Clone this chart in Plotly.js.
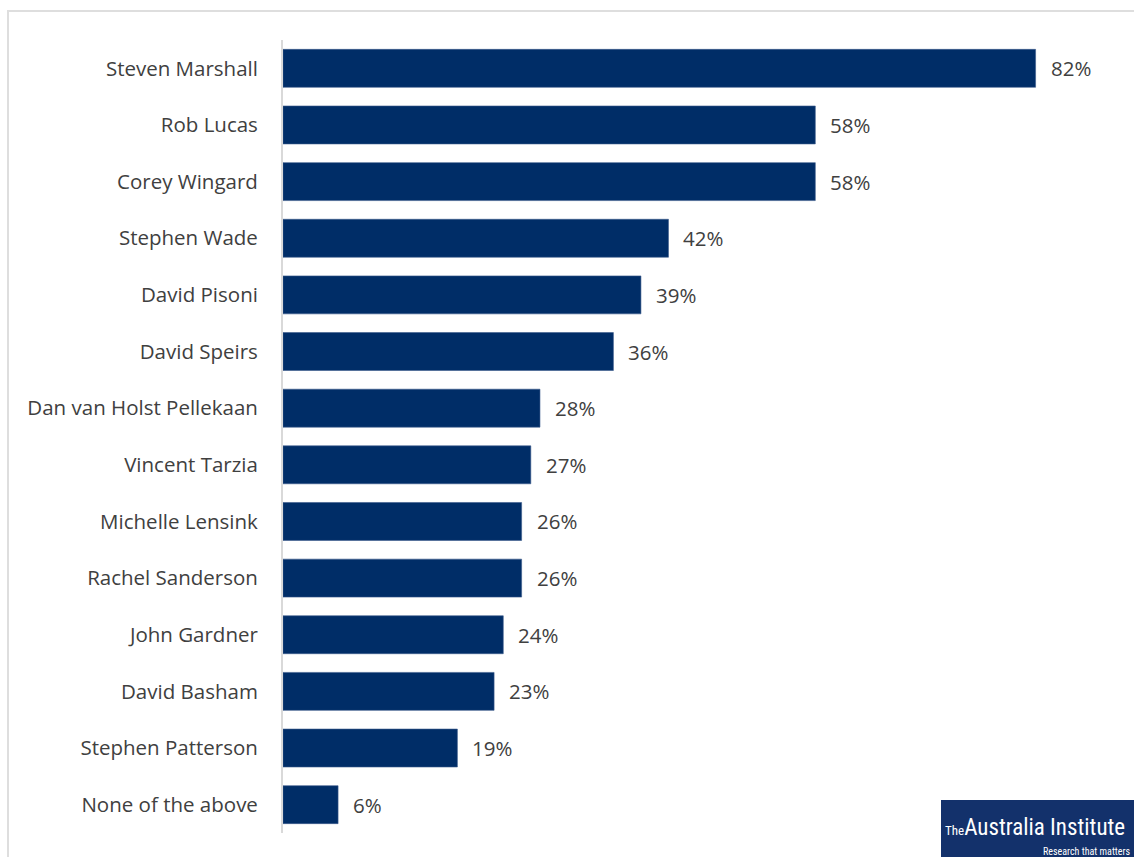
<!DOCTYPE html>
<html><head><meta charset="utf-8">
<script src="https://cdn.plot.ly/plotly-3.0.1.min.js"></script>
<style>
html,body{margin:0;padding:0;background:#fff;}
#wrap{position:relative;width:1134px;height:857px;overflow:hidden;}
#chart{position:absolute;left:0;top:0;width:1134px;height:857px;}
#frame{position:absolute;left:7px;top:10px;width:1140px;height:900px;border:2px solid #dedede;pointer-events:none;}
</style></head>
<body><div id="wrap"><div id="chart"></div><div id="frame"></div></div>
<script>
const names = ["Steven Marshall","Rob Lucas","Corey Wingard","Stephen Wade","David Pisoni","David Speirs","Dan van Holst Pellekaan","Vincent Tarzia","Michelle Lensink","Rachel Sanderson","John Gardner","David Basham","Stephen Patterson","None of the above"];
const values = [82,58,58,42,39,36,28,27,26,26,24,23,19,6];
const valueLabels = ["82%","58%","58%","42%","39%","36%","28%","27%","26%","26%","24%","23%","19%","6%"];

const FONT = "'Open Sans', sans-serif";
const LOGOFONT = "'Liberation Sans Narrow', 'Roboto Condensed', sans-serif";
const trace = {
  type:'bar', orientation:'h', x: values, y: names,
  marker:{color:'#002D67', line:{color:'#3a5a8c', width:0.6}},
  hoverinfo:'none'
};
const annotations = names.map((n,i)=>({
  x: values[i], y: n, xref:'x', yref:'y', text: valueLabels[i], showarrow:false,
  xanchor:'left', xshift:13, font:{family:FONT, size:20.5, color:'#404040'}
}));
annotations.push({xref:'paper', yref:'paper', x:(1127-283)/826, y:(833-827)/793, xanchor:'right', yanchor:'middle',
  text:"<span style='font-size:13px'>The</span>Australia Institute", showarrow:false,
  font:{family:LOGOFONT, size:23, color:'#ffffff'}});
annotations.push({xref:'paper', yref:'paper', x:(1133-283)/826, y:(833-851)/793, xanchor:'right', yanchor:'middle',
  text:"Research that matters", showarrow:false,
  font:{family:LOGOFONT, size:10, color:'#ffffff'}});

const layout = {
  width:1134, height:857,
  margin:{l:283, r:25, t:40, b:24},
  paper_bgcolor:'#ffffff', plot_bgcolor:'#ffffff',
  bargap:0.33,
  showlegend:false,
  xaxis:{range:[0,90], visible:false, fixedrange:true},
  yaxis:{autorange:'reversed', showline:true, linecolor:'#d9d9d9', linewidth:2,
    ticks:'', showgrid:false, zeroline:false, ticklabelstandoff:19,
    tickfont:{family:FONT, size:20.5, color:'#404040'}, fixedrange:true},
  shapes:[{type:'rect', xref:'paper', yref:'paper', x0:(941-283)/826, x1:(1140-283)/826,
    y0:(833-860)/793, y1:(833-800)/793, fillcolor:'#13316B', line:{width:0}, layer:'above'}],
  annotations: annotations
};
Plotly.newPlot('chart',[trace],layout,{displayModeBar:false, staticPlot:true});
</script></body></html>
